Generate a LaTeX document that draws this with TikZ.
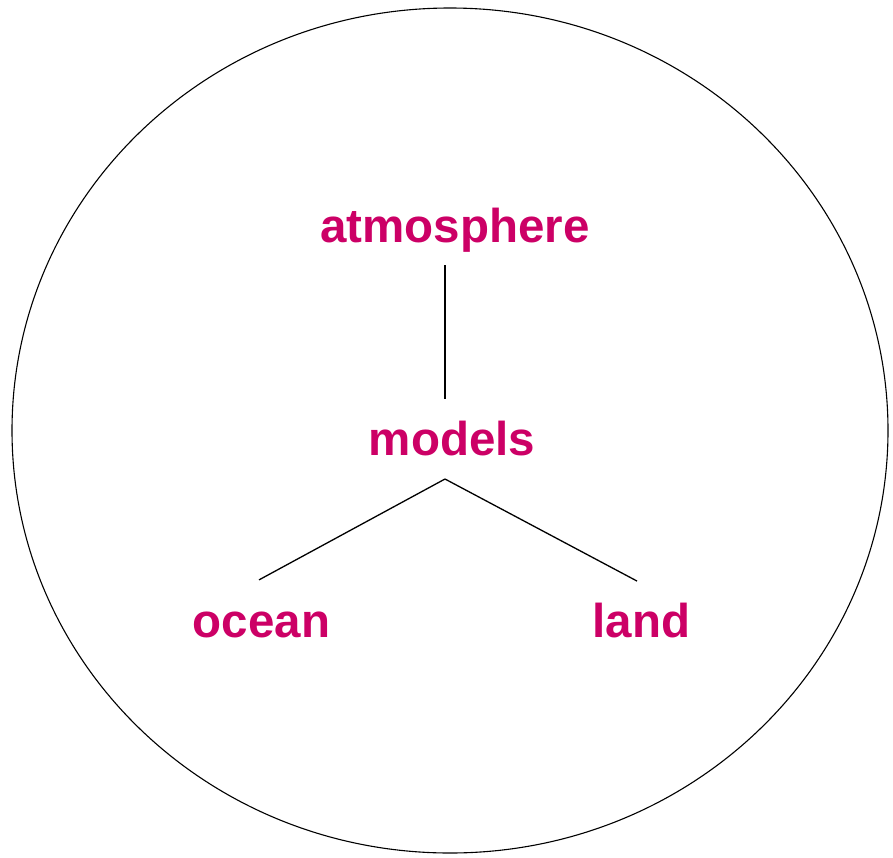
\documentclass[tikz,border=0pt]{standalone}
\usepackage{fontspec}
\setmainfont{Liberation Sans}
\usepackage{xcolor}
\usepackage{tikz}
\usetikzlibrary{positioning}
\definecolor{modelPink}{HTML}{CC0066}

\begin{document}
\begin{tikzpicture}[x=1pt, y=-1pt,
        label/.style={text=modelPink, font=\fontsize{47.5}{57}\selectfont\bfseries, anchor=base},
        link/.style={draw=black, line width=1.3pt}]
        \useasboundingbox (0,0) rectangle (893,857);
        \draw[line width=1.1pt] (450,430.5) ellipse [x radius=438, y radius=422.5];

        \node (atm) [label] at (455,242) {atmosphere};
        \node (models) [label] at (452,455) {models};
        \node (ocean) [label] at (261.5,637) {ocean};
        \node (land) [label] at (641.5,637) {land};
        \coordinate (hub) at ([xshift=-7pt,yshift=-20pt]models.south);

        \draw[link, shorten <=10pt, shorten >=18pt] (atm.south -| hub) -- (models.north -| hub);
        \draw[link] (hub) -- ([xshift=-2.5pt,yshift=28pt]ocean.north);
        \draw[link] (hub) -- ([xshift=-4.5pt,yshift=18pt]land.north);
    \end{tikzpicture}
\end{document}
